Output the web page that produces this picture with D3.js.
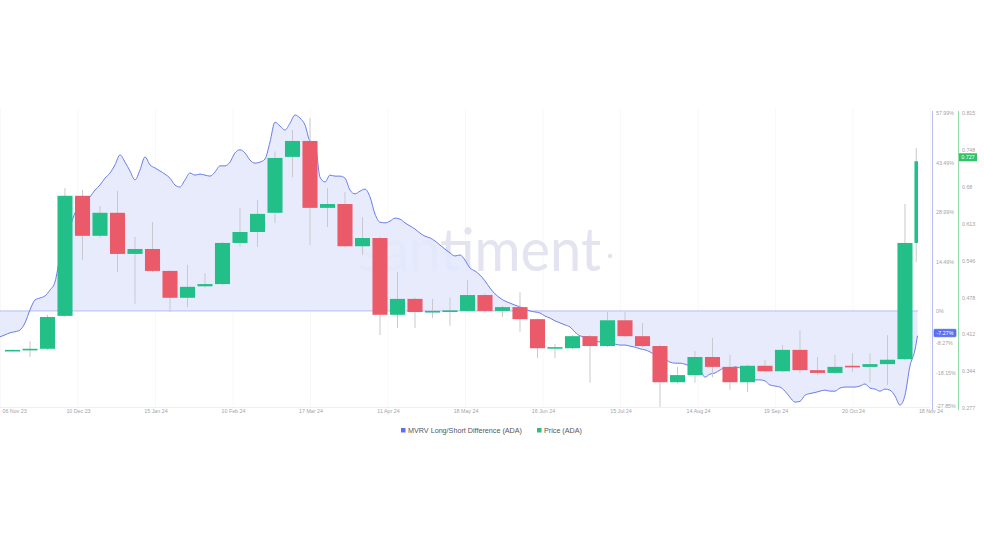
<!DOCTYPE html>
<html><head><meta charset="utf-8">
<script src="https://cdn.jsdelivr.net/npm/d3@7/dist/d3.min.js"></script>
<style>
body{margin:0;background:#fff;}
svg{display:block;font-family:"Liberation Sans",Arial,sans-serif;}
</style>
</head><body>
<svg id="chart" width="984" height="554"></svg>
<script>
// ---------- DATA ----------
const candleDates = ["2023-11-20","2023-11-27","2023-12-04","2023-12-11","2023-12-18","2023-12-25",
 "2024-01-01","2024-01-08","2024-01-15","2024-01-22","2024-01-29","2024-02-05","2024-02-12","2024-02-19","2024-02-26",
 "2024-03-04","2024-03-11","2024-03-18","2024-03-25","2024-04-01","2024-04-08","2024-04-15","2024-04-22","2024-04-29",
 "2024-05-06","2024-05-13","2024-05-20","2024-05-27","2024-06-03","2024-06-10","2024-06-17","2024-06-24",
 "2024-07-01","2024-07-08","2024-07-15","2024-07-22","2024-07-29","2024-08-05","2024-08-12","2024-08-19","2024-08-26",
 "2024-09-02","2024-09-09","2024-09-16","2024-09-23","2024-09-30","2024-10-07","2024-10-14","2024-10-21","2024-10-28",
 "2024-11-04","2024-11-11","2024-11-15T12:00"];
const candleOpen  = [0.383,0.383,0.385,0.445,0.664,0.591,0.633,0.558,0.567,0.527,0.478,0.499,0.503,0.578,0.598,0.633,0.735,0.764,0.642,0.649,0.572,0.587,0.447,0.476,0.452,0.454,0.454,0.483,0.454,0.461,0.439,0.386,0.386,0.408,0.390,0.437,0.408,0.390,0.324,0.337,0.370,0.352,0.324,0.354,0.344,0.383,0.346,0.341,0.354,0.352,0.357,0.366,0.578];
const candleHigh  = [0.384,0.399,0.447,0.678,0.675,0.645,0.673,0.589,0.616,0.528,0.538,0.523,0.580,0.642,0.656,0.745,0.784,0.806,0.678,0.671,0.625,0.589,0.525,0.478,0.476,0.478,0.510,0.486,0.463,0.488,0.440,0.394,0.410,0.410,0.452,0.452,0.432,0.392,0.352,0.381,0.405,0.374,0.356,0.365,0.392,0.419,0.370,0.374,0.377,0.377,0.410,0.649,0.751];
const candleLow   = [0.382,0.370,0.383,0.443,0.547,0.587,0.525,0.467,0.525,0.452,0.461,0.497,0.501,0.571,0.571,0.614,0.698,0.574,0.607,0.570,0.556,0.410,0.423,0.423,0.441,0.427,0.452,0.451,0.443,0.416,0.368,0.368,0.384,0.323,0.388,0.406,0.388,0.279,0.322,0.323,0.333,0.310,0.306,0.342,0.342,0.341,0.337,0.339,0.343,0.324,0.319,0.364,0.543];
const candleClose = [0.383,0.385,0.443,0.664,0.591,0.633,0.558,0.567,0.527,0.478,0.498,0.503,0.578,0.598,0.631,0.733,0.764,0.642,0.649,0.572,0.587,0.447,0.476,0.452,0.454,0.455,0.483,0.454,0.461,0.439,0.386,0.388,0.408,0.390,0.437,0.408,0.390,0.324,0.337,0.370,0.352,0.324,0.354,0.344,0.383,0.346,0.341,0.352,0.352,0.357,0.365,0.578,0.727];

// MVRV Long/Short Difference (%), one reading every 2 days from 15 Nov 2023, plus latest on 16 Nov 2024
const mvrvStart = "2023-11-15";
const mvrvValues = [
 -7.6,-7.0,-6.4,-6.1,-5.6,-3.5,0.3,3.2,3.8,4.4,
 6.1,8.5,15.8,21.1,24.6,28.7,30.2,31.6,33.4,35.4,
 36.9,38.9,40.4,42.8,45.7,43.6,41.0,38.4,41.3,45.1,
 42.8,41.9,41.0,40.1,38.9,36.9,36.3,38.4,40.4,39.8,
 40.1,39.8,39.5,40.7,42.5,42.5,43.6,46.3,47.2,46.3,
 44.2,43.3,43.6,44.5,49.5,55.3,54.2,53.0,55.0,57.4,
 56.5,54.5,49.8,49.2,39.2,37.8,39.8,39.5,39.5,38.9,
 35.4,34.3,35.1,35.7,33.4,28.4,26.0,25.8,26.3,27.2,
 26.9,25.8,24.9,24.0,22.8,21.9,21.4,20.5,19.3,18.1,
 17.0,16.1,16.4,14.9,12.6,11.7,10.5,8.8,6.7,5.0,
 3.8,2.9,2.3,1.7,1.2,0.6,0.0,-0.3,-0.6,-1.5,
 -2.1,-2.9,-3.5,-4.1,-4.7,-6.2,-7.3,-7.6,-7.6,-8.8,
 -9.1,-9.4,-9.4,-9.7,-10.0,-10.0,-10.3,-10.6,-11.1,-11.4,
 -12.0,-12.9,-13.5,-14.1,-15.0,-15.3,-15.3,-15.6,-16.1,-16.7,
 -17.3,-19.4,-18.5,-18.2,-17.3,-16.7,-17.0,-16.4,-16.7,-17.0,
 -18.5,-20.2,-20.2,-20.5,-21.7,-22.0,-22.3,-23.5,-25.3,-26.7,
 -26.5,-24.7,-24.2,-23.9,-23.5,-23.2,-23.5,-23.5,-22.6,-22.3,
 -22.3,-22.3,-22.0,-21.4,-22.6,-22.9,-23.5,-22.9,-23.2,-24.9,
 -27.6,-24.7,-16.1,-11.4];
const mvrvLastDate = "2024-11-16";
const mvrvLastValue = -7.27;

const xTickLabels = ["06 Nov 23","10 Dec 23","15 Jan 24","10 Feb 24","17 Mar 24","11 Apr 24","18 May 24","16 Jun 24","15 Jul 24","14 Aug 24","19 Sep 24","20 Oct 24","18 Nov 24"];
const mvrvTicks = [57.99, 43.49, 28.99, 14.49, 0, -18.15, -27.85];
const priceTicks = [0.815, 0.748, 0.68, 0.613, 0.546, 0.478, 0.412, 0.344, 0.277];
const seriesNames = ["MVRV Long/Short Difference (ADA)", "Price (ADA)"];
const hiddenLabel = "-8.27%";

// ---------- SETUP ----------
const parse = s => new Date(s.length > 10 ? s + "Z" : s + "T00:00:00Z");
const plotR = 918, plotT = 108, plotB = 407;
const COL = {green:"#22bf88", red:"#ea5a69", wick:"#c9c9cd", blue:"#6a7cea", fill:"#e4e8fc",
             zero:"#b6bef5", blueAxis:"#b7bcf6", greenAxis:"#8fdcaa", text:"#a3a3a8"};

const svg = d3.select("#chart");
const x = d3.scaleUtc().domain([parse("2023-11-15"), parse("2024-11-16T05:00")]).range([0, plotR]);
const yP = d3.scaleLinear().domain([0.277, 0.815]).range([408, 113]);
const yM = d3.scaleLinear().domain([-27.85, 57.99]).range([406, 113]);
const xLab = d3.scalePoint().domain(xTickLabels).range([0.5, 930.5]);

const candles = candleDates.map((d,i)=>({date:parse(d), o:candleOpen[i], h:candleHigh[i], l:candleLow[i], c:candleClose[i]}));
const mvrv = mvrvValues.map((v,i)=>({date:d3.utcDay.offset(parse(mvrvStart), 2*i), v}));
mvrv.push({date:parse(mvrvLastDate), v:mvrvLastValue});

svg.append("defs").append("clipPath").attr("id","plotclip")
  .append("rect").attr("x",0).attr("y",plotT-5).attr("width",plotR).attr("height",plotB-plotT+5);

// very faint gridlines
svg.append("g").selectAll("line").data(xTickLabels).join("line")
  .attr("x1",d=>xLab(d)).attr("x2",d=>xLab(d)).attr("y1",plotT).attr("y2",plotB)
  .attr("stroke","#f8f8fa").attr("stroke-width",1);

// watermark
const wm = svg.append("g").attr("fill","#e3e4f0");
wm.append("text").attr("x",357).attr("y",271).attr("font-family","Lato, 'Open Sans', sans-serif")
  .attr("font-weight",400).attr("font-size",60).attr("textLength",244).attr("lengthAdjust","spacingAndGlyphs")
  .text("santiment");
wm.append("circle").attr("cx",610).attr("cy",256).attr("r",2.2);

// area + line
const plot = svg.append("g").attr("clip-path","url(#plotclip)");
plot.append("path").datum(mvrv)
  .attr("d", d3.area().x(d=>x(d.date)).y0(yM(0)).y1(d=>yM(d.v)).curve(d3.curveMonotoneX))
  .attr("fill",COL.fill).attr("opacity",0.88);
plot.append("line").attr("x1",0).attr("x2",plotR).attr("y1",yM(0)).attr("y2",yM(0))
  .attr("stroke",COL.zero).attr("stroke-width",1);
plot.append("path").datum(mvrv)
  .attr("d", d3.line().x(d=>x(d.date)).y(d=>yM(d.v)).curve(d3.curveMonotoneX))
  .attr("fill","none").attr("stroke",COL.blue).attr("stroke-width",1);

// candles
const week = x(d3.utcDay.offset(parse("2024-01-01"),7)) - x(parse("2024-01-01"));
const bw = week * 0.86;
const cg = plot.append("g");
candles.forEach(d=>{
  const cx = x(d.date);
  const w = Math.min(bw, 2*(plotR - cx));
  const up = d.c >= d.o;
  cg.append("line").attr("x1",cx).attr("x2",cx).attr("y1",yP(d.h)).attr("y2",yP(d.l))
    .attr("stroke",COL.wick).attr("stroke-width",1);
  const top = yP(Math.max(d.o,d.c)), bot = yP(Math.min(d.o,d.c));
  cg.append("rect").attr("x",cx-w/2).attr("width",w)
    .attr("y",top).attr("height",Math.max(1.6, bot-top))
    .attr("fill", up ? COL.green : COL.red);
});

// bottom axis
svg.append("line").attr("x1",0).attr("x2",930).attr("y1",plotB+0.5).attr("y2",plotB+0.5)
  .attr("stroke","#efeff2");
const xa = svg.append("g").attr("transform",`translate(0,${plotB})`)
  .call(d3.axisBottom(xLab).tickSize(0).tickPadding(2));
xa.select(".domain").remove();
xa.selectAll("text").attr("font-size",5.3).attr("fill",COL.text).attr("font-family","Liberation Sans, Arial");
xa.selectAll(".tick").filter((d,i)=>i===0).select("text").attr("text-anchor","start").attr("x",1.5);

// right axes lines
svg.append("line").attr("x1",932.5).attr("x2",932.5).attr("y1",111).attr("y2",410).attr("stroke",COL.blueAxis);
svg.append("line").attr("x1",958.5).attr("x2",958.5).attr("y1",111).attr("y2",410).attr("stroke",COL.greenAxis);

const fmtM = d => d === 0 ? "0%" : d.toFixed(2) + "%";
const ma = svg.append("g").attr("transform","translate(933,0)")
  .call(d3.axisRight(yM).tickValues(mvrvTicks).tickSize(0).tickPadding(3).tickFormat(fmtM));
ma.select(".domain").remove();
ma.selectAll("text").attr("font-size",5.3).attr("fill",COL.text);

const pa = svg.append("g").attr("transform","translate(959,0)")
  .call(d3.axisRight(yP).tickValues(priceTicks).tickSize(0).tickPadding(3).tickFormat(d3.format(".3~f")));
pa.select(".domain").remove();
pa.selectAll("text").attr("font-size",5.3).attr("fill",COL.text);

// current value badges
const lastM = mvrv[mvrv.length-1].v, lastP = candles[candles.length-1].c;
svg.append("text").attr("x",936).attr("y",yM(lastM)+9).attr("font-size",5.3).attr("fill",COL.text).text(hiddenLabel);
svg.append("rect").attr("x",934).attr("y",yM(lastM)-6.5).attr("width",22).attr("height",7.5)
  .attr("rx",1).attr("fill","#5a72f2").attr("stroke","#3f5ae8").attr("stroke-width",0.6);
svg.append("text").attr("x",945).attr("y",yM(lastM)-0.8).attr("text-anchor","middle")
  .attr("font-size",5.3).attr("fill","#fff").text(fmtM(lastM));
svg.append("rect").attr("x",959).attr("y",yP(lastP)-8).attr("width",18).attr("height",8)
  .attr("fill","#34c163");
svg.append("text").attr("x",968).attr("y",yP(lastP)-2).attr("text-anchor","middle")
  .attr("font-size",5.3).attr("fill","#fff").text(d3.format(".3f")(lastP));

// legend
const leg = svg.append("g").attr("font-size",7.2).attr("fill","#55565c");
const legItems = [{name:seriesNames[0], color:"#5d6ef0", x:401}, {name:seriesNames[1], color:"#2dbf77", x:537}];
legItems.forEach(it=>{
  leg.append("rect").attr("x",it.x).attr("y",428).attr("width",4.5).attr("height",4.5).attr("fill",it.color);
  leg.append("text").attr("x",it.x+7).attr("y",432.8).text(it.name);
});
</script>
</body></html>
